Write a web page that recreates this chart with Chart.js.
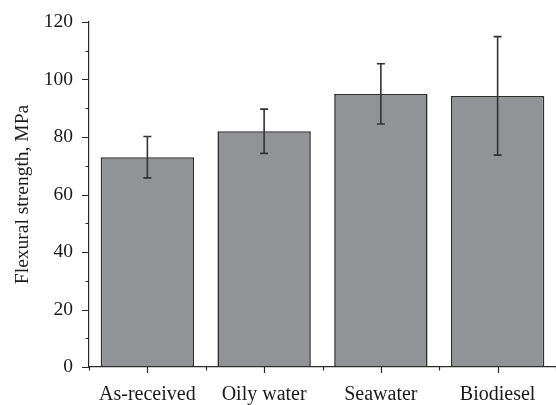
<!DOCTYPE html>
<html>
<head>
<meta charset="utf-8">
<script src="https://cdn.jsdelivr.net/npm/chart.js@4"></script>
<style>
  html, body { margin: 0; padding: 0; background: #fff; }
  #wrap { width: 556px; height: 405px; }
</style>
</head>
<body>
<div id="wrap"><canvas id="chart"></canvas></div>
<script>
const categories = ["As-received", "Oily water", "Seawater", "Biodiesel"];
const strength = [73, 82, 95, 94.3];
const errors = [7.2, 7.7, 10.5, 20.6];
const yTicks = [0, 20, 40, 60, 80, 100, 120];
const yMinorTicks = [10, 30, 50, 70, 90, 110];

const axisColor = "#2a2a2a";
const serif = "'Liberation Serif', 'Times New Roman', serif";

// error bars + outward tick marks (major and minor)
const extrasPlugin = {
    id: "extras",
    afterDatasetsDraw(chart) {
        const ctx = chart.ctx;
        const x = chart.scales.x;
        const y = chart.scales.y;
        ctx.save();
        ctx.strokeStyle = "#333";
        ctx.lineWidth = 1.6;
        strength.forEach((v, i) => {
            const cx = x.getPixelForValue(i);
            const top = y.getPixelForValue(v + errors[i]);
            const bot = y.getPixelForValue(v - errors[i]);
            ctx.beginPath();
            ctx.moveTo(cx, top); ctx.lineTo(cx, bot);
            ctx.moveTo(cx - 4, top); ctx.lineTo(cx + 4, top);
            ctx.moveTo(cx - 4, bot); ctx.lineTo(cx + 4, bot);
            ctx.stroke();
        });

        ctx.strokeStyle = axisColor;
        ctx.lineWidth = 1.2;
        const left = chart.chartArea.left;
        const bottom = chart.chartArea.bottom;
        ctx.beginPath();
        yTicks.forEach(t => {
            const py = Math.round(y.getPixelForValue(t)) + 0.5;
            ctx.moveTo(left, py); ctx.lineTo(left - 7, py);
        });
        yMinorTicks.forEach(t => {
            const py = Math.round(y.getPixelForValue(t)) + 0.5;
            ctx.moveTo(left, py); ctx.lineTo(left - 3.5, py);
        });
        categories.forEach((c, i) => {
            const px = Math.round(x.getPixelForValue(i)) + 0.5;
            ctx.moveTo(px, bottom); ctx.lineTo(px, bottom + 6);
        });
        for (let i = 0; i <= categories.length; i++) {
            const px = Math.round(x.getPixelForValue(i - 0.5)) + 0.5;
            ctx.moveTo(px, bottom); ctx.lineTo(px, bottom + 3.5);
        }
        ctx.stroke();
        ctx.restore();
    }
};

new Chart(document.getElementById("chart"), {
    type: "bar",
    data: {
        labels: categories,
        datasets: [{
            data: strength,
            backgroundColor: "#929396",
            borderColor: "#2e2e2e",
            borderWidth: 1.6,
            borderSkipped: false,
            barPercentage: 0.8,
            categoryPercentage: 1.0
        }]
    },
    options: {
        responsive: true,
        maintainAspectRatio: false,
        animation: false,
        layout: { padding: { top: 22, right: 0, bottom: 0, left: 4 } },
        plugins: {
            legend: { display: false },
            tooltip: { enabled: false }
        },
        scales: {
            x: {
                afterFit(scale) { scale.height = 38; },
                grid: { display: false, drawTicks: false },
                border: { display: true, color: axisColor, width: 1.2 },
                ticks: {
                    color: "#1a1a1a",
                    padding: 16,
                    font: { family: serif, size: 20 }
                }
            },
            y: {
                min: 0,
                max: 120,
                afterBuildTicks(scale) {
                    scale.ticks = yTicks.map(v => ({ value: v }));
                },
                afterFit(scale) { scale.width = 85; },
                grid: { display: false, drawTicks: false },
                border: { display: true, color: axisColor, width: 1.2 },
                ticks: {
                    color: "#1a1a1a",
                    padding: 16,
                    font: { family: serif, size: 19.5, lineHeight: 0.5 }
                },
                title: {
                    display: true,
                    text: "Flexural strength, MPa",
                    color: "#1a1a1a",
                    padding: { top: 7, bottom: 0 },
                    font: { family: serif, size: 19.5 }
                }
            }
        }
    },
    plugins: [extrasPlugin]
});
</script>
</body>
</html>
